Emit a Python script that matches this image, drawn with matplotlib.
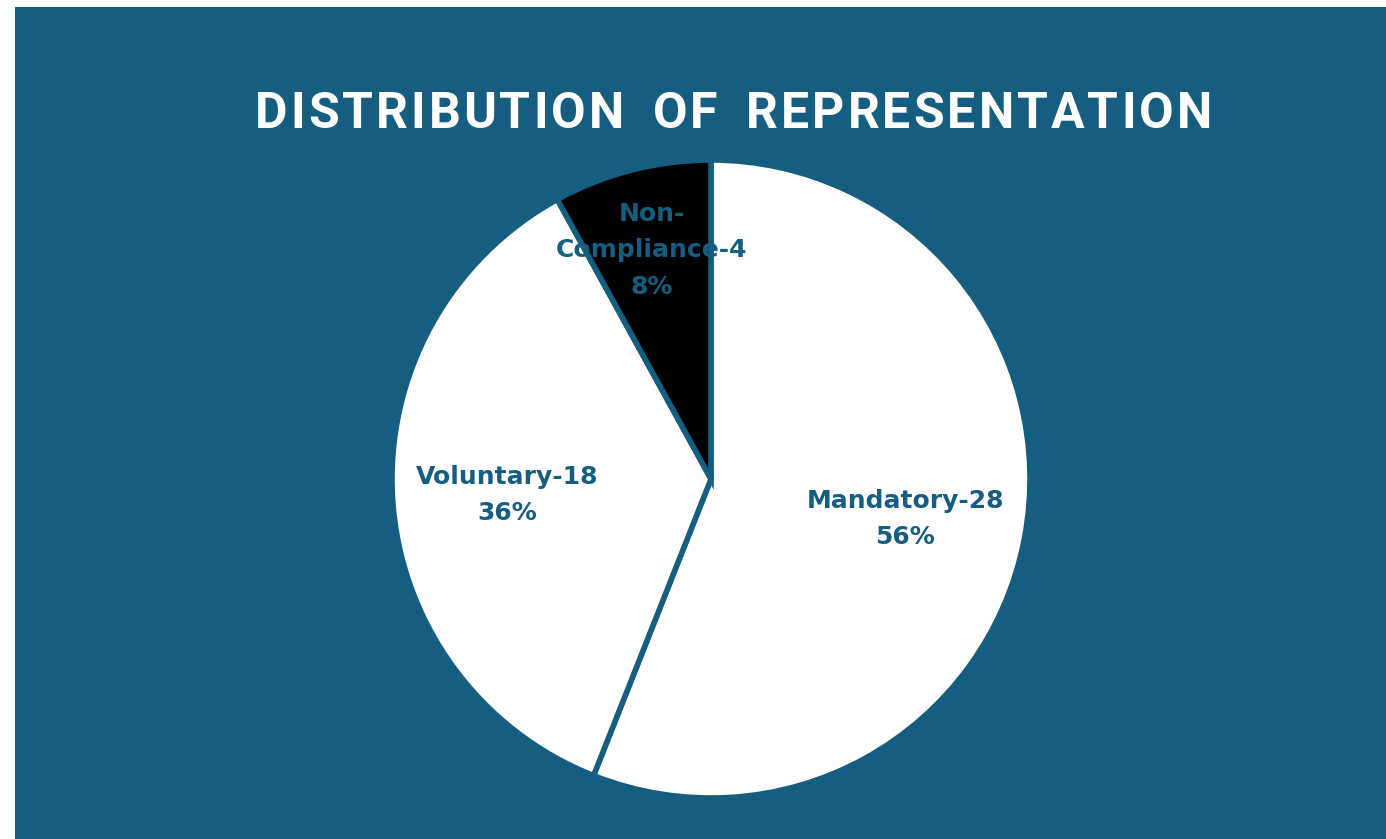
import numpy as np
import matplotlib
matplotlib.use('Agg')
import matplotlib.pyplot as plt
from matplotlib.patches import Rectangle
from matplotlib.transforms import offset_copy

categories = ["Mandatory", "Voluntary", "Non-\nCompliance"]
counts = [28, 18, 4]
colors = ["white", "white", "black"]
label_r = [0.62, 0.64, 0.75]
title = "DISTRIBUTION OF REPRESENTATION"

bg = "#165e80"
W, H = 1386, 839

fig = plt.figure(figsize=(W / 100, H / 100), dpi=100, facecolor="white")
fig.patches.append(Rectangle((15 / W, 0), 1 - 15 / W, 1 - 7 / H,
                             transform=fig.transFigure, facecolor=bg,
                             edgecolor="none", zorder=-1))

cx, cy, r = 711, 479, 319
ax = fig.add_axes([(cx - r) / W, (H - cy - r) / H, 2 * r / W, 2 * r / H])
ax.set_facecolor("none")

wedges, _ = ax.pie(counts, colors=colors, startangle=90, counterclock=False,
                   wedgeprops=dict(edgecolor=bg, linewidth=4))
ax.set_xlim(-1, 1)
ax.set_ylim(-1, 1)
ax.set_aspect("equal")
ax.axis("off")

total = sum(counts)
for w, cat, n, rr in zip(wedges, categories, counts, label_r):
    ang = np.deg2rad((w.theta1 + w.theta2) / 2)
    pct = round(n / total * 100)
    ax.text(rr * np.cos(ang), rr * np.sin(ang) - 0.01, f"{cat}-{n}\n{pct}%",
            ha="center", va="center", color=bg, fontsize=18,
            fontweight="bold", family="DejaVu Sans", linespacing=1.65)

# title with letter spacing: place characters one by one
renderer = fig.canvas.get_renderer()
tkw = dict(color="white", fontsize=36, fontweight="bold", family="Roboto",
           va="baseline", ha="left")

def adv(s):
    t = fig.text(0, 0, s, **tkw)
    wd = t.get_window_extent(renderer).width
    t.remove()
    return wd

bar = adv("||")
widths = [adv("|" + c + "|") - bar + (10 if c == " " else 0) for c in title]
target = 957
spacing = (target - sum(widths)) / (len(title) - 1)
x = 255
base_y = 1 - 128 / H
for c, wd in zip(title, widths):
    if c != " ":
        tr = offset_copy(fig.transFigure, fig=fig, x=x * 72 / 100, y=0, units="points")
        fig.text(0, base_y, c, transform=tr, **tkw)
    x += wd + spacing

fig.savefig("out.png", dpi=100, facecolor="white")
